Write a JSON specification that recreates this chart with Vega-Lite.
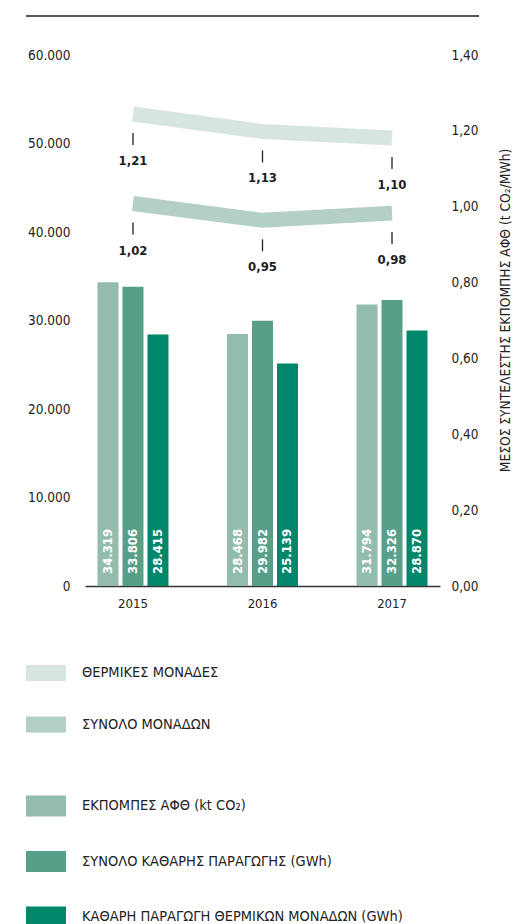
{
  "$schema": "https://vega.github.io/schema/vega-lite/v6.json",
  "width": 355,
  "height": 531,
  "autosize": {"type": "none"},
  "padding": {"left": 85, "top": 55, "right": 75, "bottom": 338},
  "config": {
    "locale": {"number": {"decimal": ",", "thousands": ".", "grouping": [3], "currency": ["", " €"]}},
    "view": {"stroke": null},
    "font": "Liberation Sans Narrow, DejaVu Sans Condensed, Roboto",
    "axis": {"labelColor": "#222", "labelFontSize": 13.5, "grid": false, "ticks": false, "domain": false, "titleColor": "#222", "titleFontWeight": "normal"},
    "axisX": {"labelAngle": 0, "domain": true, "domainColor": "#333", "domainWidth": 1.5, "labelPadding": 11, "labelFontSize": 13},
    "legend": {"labelColor": "#222", "labelFontSize": 14.5, "labelLimit": 500, "padding": 0}
  },
  "datasets": {
    "bars": [
      {"year": "2015", "series": "ΕΚΠΟΜΠΕΣ ΑΦΘ (kt CO₂)", "value": 34319},
      {"year": "2015", "series": "ΣΥΝΟΛΟ ΚΑΘΑΡΗΣ ΠΑΡΑΓΩΓΗΣ (GWh)", "value": 33806},
      {"year": "2015", "series": "ΚΑΘΑΡΗ ΠΑΡΑΓΩΓΗ ΘΕΡΜΙΚΩΝ ΜΟΝΑΔΩΝ (GWh)", "value": 28415},
      {"year": "2016", "series": "ΕΚΠΟΜΠΕΣ ΑΦΘ (kt CO₂)", "value": 28468},
      {"year": "2016", "series": "ΣΥΝΟΛΟ ΚΑΘΑΡΗΣ ΠΑΡΑΓΩΓΗΣ (GWh)", "value": 29982},
      {"year": "2016", "series": "ΚΑΘΑΡΗ ΠΑΡΑΓΩΓΗ ΘΕΡΜΙΚΩΝ ΜΟΝΑΔΩΝ (GWh)", "value": 25139},
      {"year": "2017", "series": "ΕΚΠΟΜΠΕΣ ΑΦΘ (kt CO₂)", "value": 31794},
      {"year": "2017", "series": "ΣΥΝΟΛΟ ΚΑΘΑΡΗΣ ΠΑΡΑΓΩΓΗΣ (GWh)", "value": 32326},
      {"year": "2017", "series": "ΚΑΘΑΡΗ ΠΑΡΑΓΩΓΗ ΘΕΡΜΙΚΩΝ ΜΟΝΑΔΩΝ (GWh)", "value": 28870}
    ],
    "thermal": [
      {"year": "2015", "series": "ΘΕΡΜΙΚΕΣ ΜΟΝΑΔΕΣ", "value": 1.21},
      {"year": "2016", "series": "ΘΕΡΜΙΚΕΣ ΜΟΝΑΔΕΣ", "value": 1.13},
      {"year": "2017", "series": "ΘΕΡΜΙΚΕΣ ΜΟΝΑΔΕΣ", "value": 1.10}
    ],
    "total": [
      {"year": "2015", "series": "ΣΥΝΟΛΟ ΜΟΝΑΔΩΝ", "value": 1.02},
      {"year": "2016", "series": "ΣΥΝΟΛΟ ΜΟΝΑΔΩΝ", "value": 0.95},
      {"year": "2017", "series": "ΣΥΝΟΛΟ ΜΟΝΑΔΩΝ", "value": 0.98}
    ]
  },
  "layer": [
    {
      "data": {"name": "bars"},
      "encoding": {
        "x": {"field": "year", "type": "nominal", "title": null, "scale": {"paddingInner": 0.421, "paddingOuter": 0.081}},
        "xOffset": {"field": "series", "type": "nominal", "scale": {"domain": ["ΕΚΠΟΜΠΕΣ ΑΦΘ (kt CO₂)", "ΣΥΝΟΛΟ ΚΑΘΑΡΗΣ ΠΑΡΑΓΩΓΗΣ (GWh)", "ΚΑΘΑΡΗ ΠΑΡΑΓΩΓΗ ΘΕΡΜΙΚΩΝ ΜΟΝΑΔΩΝ (GWh)"], "paddingInner": 0.16, "paddingOuter": 0.08}}
      },
      "layer": [
        {
          "mark": {"type": "bar"},
          "encoding": {
            "y": {"field": "value", "type": "quantitative", "scale": {"domain": [0, 60000], "nice": false}, "axis": {"orient": "left", "values": [0, 10000, 20000, 30000, 40000, 50000, 60000], "format": ",.0f", "labelPadding": 15, "title": null}},
            "fill": {"field": "series", "type": "nominal", "scale": {"domain": ["ΕΚΠΟΜΠΕΣ ΑΦΘ (kt CO₂)", "ΣΥΝΟΛΟ ΚΑΘΑΡΗΣ ΠΑΡΑΓΩΓΗΣ (GWh)", "ΚΑΘΑΡΗ ΠΑΡΑΓΩΓΗ ΘΕΡΜΙΚΩΝ ΜΟΝΑΔΩΝ (GWh)"], "range": ["#93bcad", "#589f89", "#00866a"]}, "legend": {"title": null, "orient": "none", "legendX": -59, "legendY": 731, "symbolType": "M-1,-0.525H1V0.525H-1Z", "symbolSize": 1600, "symbolStrokeWidth": 0, "symbolOpacity": 1, "rowPadding": 24.5, "labelOffset": 16}}
          }
        },
        {
          "mark": {"type": "text", "angle": 270, "align": "left", "baseline": "middle", "dx": 12, "color": "#ffffff", "fontWeight": "bold", "fontSize": 13},
          "encoding": {
            "y": {"datum": 0, "type": "quantitative"},
            "text": {"field": "value", "type": "quantitative", "format": ","}
          }
        }
      ]
    },
    {
      "data": {"name": "thermal"},
      "encoding": {
        "x": {"field": "year", "type": "nominal", "title": null},
        "y": {"field": "value", "type": "quantitative", "scale": {"domain": [-0.955, 1.4806], "nice": false, "zero": false}, "axis": null}
      },
      "layer": [
        {
          "mark": {"type": "line", "strokeWidth": 15, "strokeCap": "butt"},
          "encoding": {
            "stroke": {"field": "series", "type": "nominal", "scale": {"domain": ["ΘΕΡΜΙΚΕΣ ΜΟΝΑΔΕΣ", "ΣΥΝΟΛΟ ΜΟΝΑΔΩΝ"], "range": ["#d7e5df", "#b4cfc5"]}, "legend": {"title": null, "orient": "none", "legendX": -59, "legendY": 598, "symbolType": "M-1,-0.4H1V0.4H-1Z", "symbolSize": 1600, "symbolStrokeWidth": 0, "rowPadding": 23.5, "labelOffset": 16, "encode": {"symbols": {"update": {"fill": {"scale": "stroke", "field": "value"}, "opacity": {"value": 1}}}}}}
          }
        },
        {
          "mark": {"type": "rule", "yOffset": 19, "y2Offset": 31, "color": "#222", "strokeWidth": 1.3},
          "encoding": {"y2": {"field": "value"}}
        },
        {
          "mark": {"type": "text", "dy": 47, "baseline": "middle", "fontWeight": "bold", "fontSize": 13, "color": "#1e1e1e"},
          "encoding": {"text": {"field": "value", "type": "quantitative", "format": ".2f"}}
        }
      ]
    },
    {
      "data": {"name": "total"},
      "encoding": {
        "x": {"field": "year", "type": "nominal", "title": null},
        "y": {"field": "value", "type": "quantitative", "scale": {"domain": [-0.574, 1.639], "nice": false, "zero": false}, "axis": null}
      },
      "layer": [
        {
          "mark": {"type": "line", "strokeWidth": 15, "strokeCap": "butt"},
          "encoding": {
            "stroke": {"field": "series", "type": "nominal", "legend": {"title": null, "orient": "none", "legendX": -59, "legendY": 598, "symbolType": "M-1,-0.4H1V0.4H-1Z", "symbolSize": 1600, "symbolStrokeWidth": 0, "rowPadding": 23.5, "labelOffset": 16, "encode": {"symbols": {"update": {"fill": {"scale": "stroke", "field": "value"}, "opacity": {"value": 1}}}}}}
          }
        },
        {
          "mark": {"type": "rule", "yOffset": 19, "y2Offset": 31, "color": "#222", "strokeWidth": 1.3},
          "encoding": {"y2": {"field": "value"}}
        },
        {
          "mark": {"type": "text", "dy": 47, "baseline": "middle", "fontWeight": "bold", "fontSize": 13, "color": "#1e1e1e"},
          "encoding": {"text": {"field": "value", "type": "quantitative", "format": ".2f"}}
        }
      ]
    },
    {
      "data": {"values": [{}]},
      "mark": {"type": "rule", "color": "#222", "strokeWidth": 1.5, "xOffset": -107, "x2Offset": 87},
      "encoding": {
        "x": {"datum": "2015", "type": "nominal", "title": null},
        "x2": {"datum": "2017"},
        "y": {"datum": 1.503, "type": "quantitative", "scale": {"domain": [0, 1.4], "nice": false}, "axis": {"orient": "right", "values": [0, 0.2, 0.4, 0.6, 0.8, 1.0, 1.2, 1.4], "format": ".2f", "labelPadding": 11, "title": "ΜΕΣΟΣ ΣΥΝΤΕΛΕΣΤΗΣ ΕΚΠΟΜΠΗΣ ΑΦΘ (t CO₂/MWh)", "titleAngle": 270, "titleFontSize": 13.7, "titlePadding": 34, "titleY": 255}}
      }
    }
  ],
  "resolve": {"scale": {"y": "independent"}}
}
